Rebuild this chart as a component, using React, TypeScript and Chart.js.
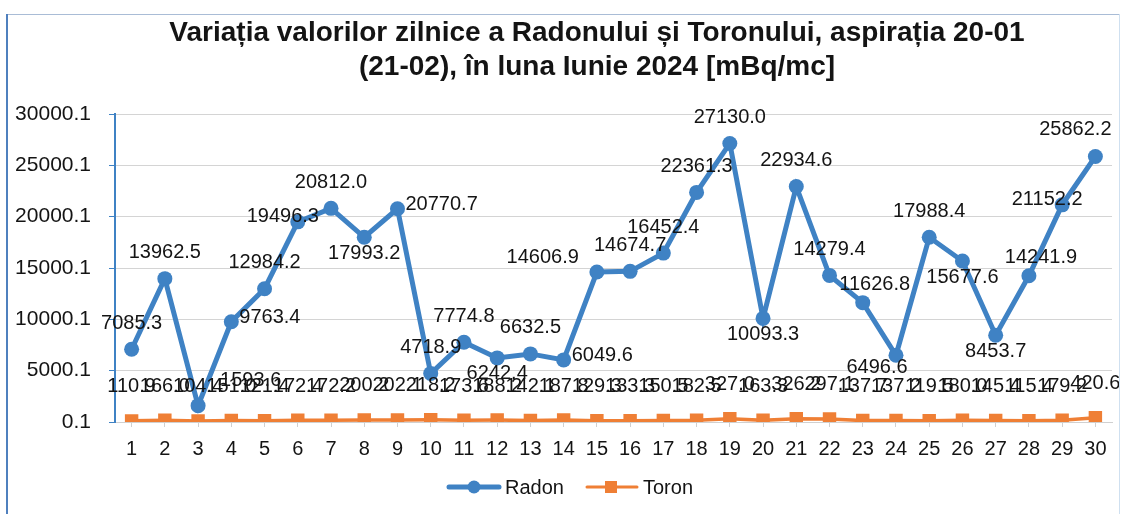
import { useEffect, useRef } from 'react';
import { Chart, registerables } from 'chart.js';

Chart.register(...registerables);

// ---------- data ----------
const DAYS = ['1','2','3','4','5','6','7','8','9','10','11','12','13','14','15','16','17','18','19','20','21','22','23','24','25','26','27','28','29','30'];

const RADON = [7085.3, 13962.5, 1593.6, 9763.4, 12984.2, 19496.3, 20812.0, 17993.2, 20770.7, 4718.9,
  7774.8, 6242.4, 6632.5, 6049.6, 14606.9, 14674.7, 16452.4, 22361.3, 27130.0, 10093.3,
  22934.6, 14279.4, 11626.8, 6496.6, 17988.4, 15677.6, 8453.7, 14241.9, 21152.2, 25862.2];

const TORON = [110.9, 166.0, 104.4, 151.0, 121.4, 172.4, 172.2, 200.2, 202.1, 218.2,
  173.6, 188.2, 142.1, 187.8, 129.3, 133.3, 150.5, 182.5, 327.0, 163.3,
  326.2, 297.1, 137.7, 137.2, 119.5, 180.0, 145.4, 115.4, 179.2, 420.6];

const Y_TICKS = [0.1, 5000.1, 10000.1, 15000.1, 20000.1, 25000.1, 30000.1];

const TITLE_LINES = [
  'Variația valorilor zilnice a Radonului și Toronului, aspirația 20-01',
  '(21-02), în luna Iunie 2024 [mBq/mc]',
];

const SERIES_NAMES = ['Radon', 'Toron'];

// label placement names (style only)
const RADON_LABEL_POS = ['top','top','topRight','right','top','overLeft','top','bottom','right','top',
  'top','bottom','top','right','topLeft','top','top','top','top','bottom',
  'top','top','topRightish','bottomLeft','top','bottom','bottom','topRightish','overLeft','topShiftLeft'];

// ---------- styles ----------
const FONT = '"Liberation Sans", Arial, sans-serif';
const BLUE = '#3f82c4';
const ORANGE = '#ef7f35';
const TEXT = '#141414';

const ANCHORS: Record<string, { dx: number; dy: number; align: CanvasTextAlign }> = {
  top: { dx: 0, dy: -26, align: 'center' },
  bottom: { dx: 0, dy: 16, align: 'center' },
  right: { dx: 8, dy: -4, align: 'left' },
  topRight: { dx: 22, dy: -25, align: 'left' },
  topLeft: { dx: -18, dy: -15, align: 'right' },
  overLeft: { dx: -15, dy: -5, align: 'center' },
  topRightish: { dx: 12, dy: -18, align: 'center' },
  bottomLeft: { dx: -19, dy: 12, align: 'center' },
  topShiftLeft: { dx: -20, dy: -27, align: 'center' },
};

const decorPlugin = {
  id: 'decor',
  afterDatasetsDraw(chart: any) {
    const ctx = chart.ctx as CanvasRenderingContext2D;
    ctx.save();
    ctx.fillStyle = TEXT;
    ctx.font = `20px ${FONT}`;
    ctx.textBaseline = 'middle';
    // Toron labels
    const tMeta = chart.getDatasetMeta(1);
    tMeta.data.forEach((pt: any, i: number) => {
      ctx.textAlign = 'center';
      ctx.fillText(TORON[i].toFixed(1), pt.x, pt.y - 34);
    });
    // Radon labels
    const rMeta = chart.getDatasetMeta(0);
    rMeta.data.forEach((pt: any, i: number) => {
      const a = ANCHORS[RADON_LABEL_POS[i]] || ANCHORS.top;
      ctx.textAlign = a.align;
      ctx.fillText(RADON[i].toFixed(1), pt.x + a.dx, pt.y + a.dy);
    });
    ctx.restore();
  },
  afterDraw(chart: any) {
    const ctx = chart.ctx as CanvasRenderingContext2D;
    ctx.save();
    // frame
    ctx.strokeStyle = '#a9bcd6';
    ctx.lineWidth = 1;
    ctx.beginPath();
    ctx.moveTo(7, 14.5);
    ctx.lineTo(1119, 14.5);
    ctx.stroke();
    ctx.strokeStyle = '#cfe0f0';
    ctx.beginPath();
    ctx.moveTo(1119.5, 14);
    ctx.lineTo(1119.5, 514);
    ctx.stroke();
    ctx.strokeStyle = '#4f80be';
    ctx.lineWidth = 2;
    ctx.beginPath();
    ctx.moveTo(7, 14);
    ctx.lineTo(7, 514);
    ctx.stroke();

    // title
    ctx.fillStyle = TEXT;
    ctx.font = `bold 28px ${FONT}`;
    ctx.textAlign = 'center';
    ctx.textBaseline = 'middle';
    ctx.fillText(TITLE_LINES[0], 597, 33);
    ctx.fillText(TITLE_LINES[1], 597, 67);

    // legend
    const ly = 487;
    ctx.lineCap = 'round';
    ctx.strokeStyle = BLUE;
    ctx.lineWidth = 5;
    ctx.beginPath();
    ctx.moveTo(449, ly);
    ctx.lineTo(499, ly);
    ctx.stroke();
    ctx.fillStyle = BLUE;
    ctx.beginPath();
    ctx.arc(474, ly, 6.5, 0, Math.PI * 2);
    ctx.fill();

    ctx.strokeStyle = ORANGE;
    ctx.lineWidth = 3;
    ctx.beginPath();
    ctx.moveTo(587, ly);
    ctx.lineTo(637, ly);
    ctx.stroke();
    ctx.fillStyle = ORANGE;
    ctx.fillRect(605, ly - 6, 12, 12);

    ctx.fillStyle = TEXT;
    ctx.font = `20px ${FONT}`;
    ctx.textAlign = 'left';
    ctx.fillText(SERIES_NAMES[0], 505, ly + 1);
    ctx.fillText(SERIES_NAMES[1], 643, ly + 1);
    ctx.restore();
  },
};

export default function App() {
  const ref = useRef<HTMLCanvasElement>(null);
  useEffect(() => {
    const chart = new Chart(ref.current as HTMLCanvasElement, {
      type: 'line',
      data: {
        labels: DAYS,
        datasets: [
          {
            label: SERIES_NAMES[0],
            data: RADON,
            borderColor: BLUE,
            backgroundColor: BLUE,
            borderWidth: 5,
            pointRadius: 7.5,
            pointBorderWidth: 0,
            pointStyle: 'circle',
            tension: 0,
            order: 0,
          },
          {
            label: SERIES_NAMES[1],
            data: TORON,
            borderColor: ORANGE,
            backgroundColor: ORANGE,
            borderWidth: 3.5,
            pointRadius: 9.5,
            pointBorderWidth: 0,
            pointStyle: 'rect',
            tension: 0,
            order: 1,
          },
        ],
      },
      options: {
        animation: false,
        responsive: false,
        layout: { padding: { top: 114, right: 11, bottom: 0, left: 0 } },
        plugins: {
          legend: { display: false },
          title: { display: false },
          tooltip: { enabled: false },
        },
        scales: {
          x: {
            offset: true,
            grid: { display: true, drawOnChartArea: false, drawTicks: true, tickLength: 5, color: '#d0d0d0' },
            border: { display: true, color: '#d0d0d0' },
            ticks: { font: { family: FONT, size: 20 }, color: TEXT, padding: 10, maxRotation: 0, autoSkip: false },
            afterFit: (s: any) => { s.height = 92; },
          },
          y: {
            min: 0.1,
            max: 30000.1,
            afterBuildTicks: (s: any) => { s.ticks = Y_TICKS.map((v) => ({ value: v })); },
            ticks: {
              callback: (v: any) => Number(v).toFixed(1),
              font: { family: FONT, size: 21 },
              color: TEXT,
              padding: 18,
            },
            grid: { color: '#d4d4d4', tickColor: BLUE, tickLength: 6 },
            border: { color: BLUE, width: 2 },
            afterFit: (s: any) => { s.width = 115; },
          },
        },
      },
      plugins: [decorPlugin],
    } as any);
    return () => chart.destroy();
  }, []);
  return (
    <div style={{ position: 'fixed', left: 0, top: 0, width: 1123, height: 514, background: '#fff' }}>
      <canvas ref={ref} width={1123} height={514} style={{ display: 'block', width: 1123, height: 514 }} />
    </div>
  );
}
